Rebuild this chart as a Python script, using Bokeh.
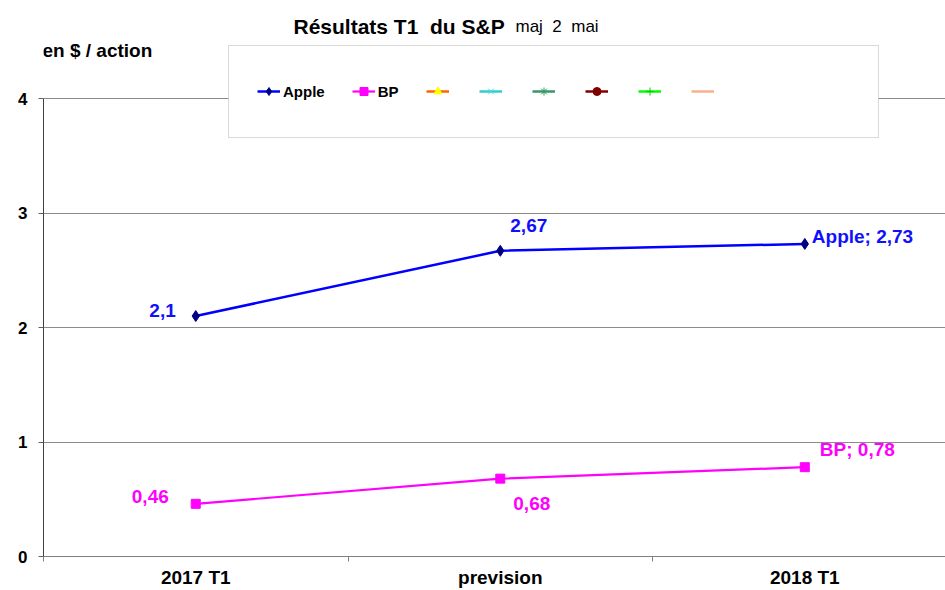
from bokeh.plotting import figure
from bokeh.models import (Range1d, FixedTicker, Legend, LegendItem, ColumnDataSource,
                          Label, BoxAnnotation)
from bokeh.core.properties import value
from bokeh.embed import file_html
from bokeh.resources import INLINE

# ---- data ----
categories = ["2017 T1", "prevision", "2018 T1"]
apple = [2.1, 2.67, 2.73]
bp = [0.46, 0.68, 0.78]
apple_labels = ["2,1", "2,67", "Apple; 2,73"]
bp_labels = ["0,46", "0,68", "BP; 0,78"]
y_ticks = [0, 1, 2, 3, 4]
# six further series of the workbook have no values (they only show in the legend)
empty_series = ["s3", "s4", "s5", "s6", "s7", "s8"]
NAN = float("nan")

# ---- label styling (pixel offsets) ----
apple_dx = [-20, 10, 7]
apple_dy = [-6, -25, -7]
apple_align = ["right", "left", "left"]
bp_dx = [-27, 13, 15]
bp_dy = [-7, 25, -18]
bp_align = ["right", "left", "left"]

FONT = value("Liberation Sans")
FONT_NAME = "Liberation Sans"
xs = [i + 0.5 for i in range(len(categories))]

p = figure(width=945, height=590, output_backend="svg", toolbar_location=None,
           x_range=Range1d(0, 2.962), y_range=Range1d(0, 556 / 114.5),
           min_border_left=43, min_border_right=0, min_border_top=0, min_border_bottom=34)
p.outline_line_color = None
p.background_fill_color = "white"
p.border_fill_color = "white"

# axes
xa = p.xaxis[0]
xa.ticker = FixedTicker(ticks=xs, minor_ticks=list(range(len(categories) + 1)))
xa.major_label_overrides = {x: c for x, c in zip(xs, categories)}
xa.major_tick_out = 0
xa.major_tick_in = 0
xa.minor_tick_out = 5
xa.minor_tick_in = 0
xa.minor_tick_line_color = "#808080"
xa.axis_line_color = "#808080"
xa.major_label_standoff = 5
xa.major_label_text_font = FONT_NAME
xa.major_label_text_font_style = "bold"
xa.major_label_text_font_size = "19px"
xa.major_label_text_color = "black"

ya = p.yaxis[0]
ya.ticker = FixedTicker(ticks=y_ticks)
ya.bounds = (0, 4)
ya.major_tick_out = 5
ya.major_tick_in = 0
ya.minor_tick_line_color = None
ya.major_tick_line_color = "#606060"
ya.axis_line_color = "#404040"
ya.major_label_standoff = 11
ya.major_label_text_font = FONT_NAME
ya.major_label_text_font_style = "bold"
ya.major_label_text_font_size = "17px"
ya.major_label_text_color = "black"

p.xgrid.visible = False
p.ygrid.ticker = FixedTicker(ticks=y_ticks)
p.ygrid.bounds = (0, 4)
p.ygrid.grid_line_color = "#8c8c8c"
p.ygrid.grid_line_width = 1

# series
r_a_line = p.line(xs, apple, line_color="#0000FF", line_width=2.5)
r_a_pts = p.scatter(xs, apple, marker="diamond", size=11, fill_color="#000080", line_color="#000080")
r_b_line = p.line(xs, bp, line_color="#FF00FF", line_width=2.2)
r_b_pts = p.scatter(xs, bp, marker="square", size=9, fill_color="#FF00FF", line_color="#FF00FF")

# empty series (legend only)
empty_styles = [
    ("#FF6600", "triangle", "#FFFF00", 10),
    ("#33CCCC", "x", "#40E0E0", 13),
    ("#339966", "asterisk", "#339966", 13),
    ("#800000", "circle", "#800000", 6),
    ("#00FF00", "cross", "#00CC00", 13),
    ("#F8B090", None, None, 0),
]
items = [LegendItem(label="Apple", renderers=[r_a_line, r_a_pts]),
         LegendItem(label="BP", renderers=[r_b_line, r_b_pts])]
for name, (lc, mk, mc, ms) in zip(empty_series, empty_styles):
    rl = p.line([NAN], [NAN], line_color=lc, line_width=2.5, name=name)
    rs = [rl]
    if mk is not None:
        rs.append(p.scatter([NAN], [NAN], marker=mk, size=ms, fill_color=mc, line_color=mc))
    items.append(LegendItem(label=value(""), renderers=rs))

# data labels
src_a = ColumnDataSource(dict(x=xs, y=apple, text=apple_labels, dx=apple_dx, dy=apple_dy, align=apple_align))
src_b = ColumnDataSource(dict(x=xs, y=bp, text=bp_labels, dx=bp_dx, dy=bp_dy, align=bp_align))
p.text(x="x", y="y", text="text", source=src_a, x_offset="dx", y_offset="dy", text_align="align",
       text_baseline="middle", text_font=FONT, text_font_style="bold", text_font_size="19px",
       text_color="#1010FF")
p.text(x="x", y="y", text="text", source=src_b, x_offset="dx", y_offset="dy", text_align="align",
       text_baseline="middle", text_font=FONT, text_font_style="bold", text_font_size="19px",
       text_color="#FF00FF")

# legend box
box = BoxAnnotation(left=185, right=835, top=511, bottom=419,
                    left_units="screen", right_units="screen", top_units="screen", bottom_units="screen",
                    fill_color="white", fill_alpha=1, line_color="#808080", line_width=1)
p.add_layout(box)

leg = Legend(items=items, orientation="horizontal", location=(214, 455), padding=0, margin=0,
             spacing=27, glyph_width=23, glyph_height=20, label_standoff=3, label_width=0,
             label_height=20, border_line_color=None, background_fill_alpha=0,
             label_text_font=FONT_NAME, label_text_font_style="bold",
             label_text_font_size="15px", label_text_color="black")
p.add_layout(leg, "center")

# titles
p.add_layout(Label(x=250, y=530, x_units="screen", y_units="screen", text="Résultats T1\u00a0 du S&P",
                   text_font=FONT_NAME, text_font_style="bold", text_font_size="21px",
                   text_baseline="alphabetic", text_color="black"))
p.add_layout(Label(x=472, y=530, x_units="screen", y_units="screen", text="maj\u00a0\u00a02\u00a0\u00a0mai",
                   text_font=FONT_NAME, text_font_size="17px", text_baseline="alphabetic",
                   text_color="black"))
p.add_layout(Label(x=-1, y=506, x_units="screen", y_units="screen", text="en $ / action",
                   text_font=FONT_NAME, text_font_style="bold", text_font_size="19px",
                   text_baseline="alphabetic", text_color="black"))

open("out.html", "w").write(file_html(p, INLINE))
